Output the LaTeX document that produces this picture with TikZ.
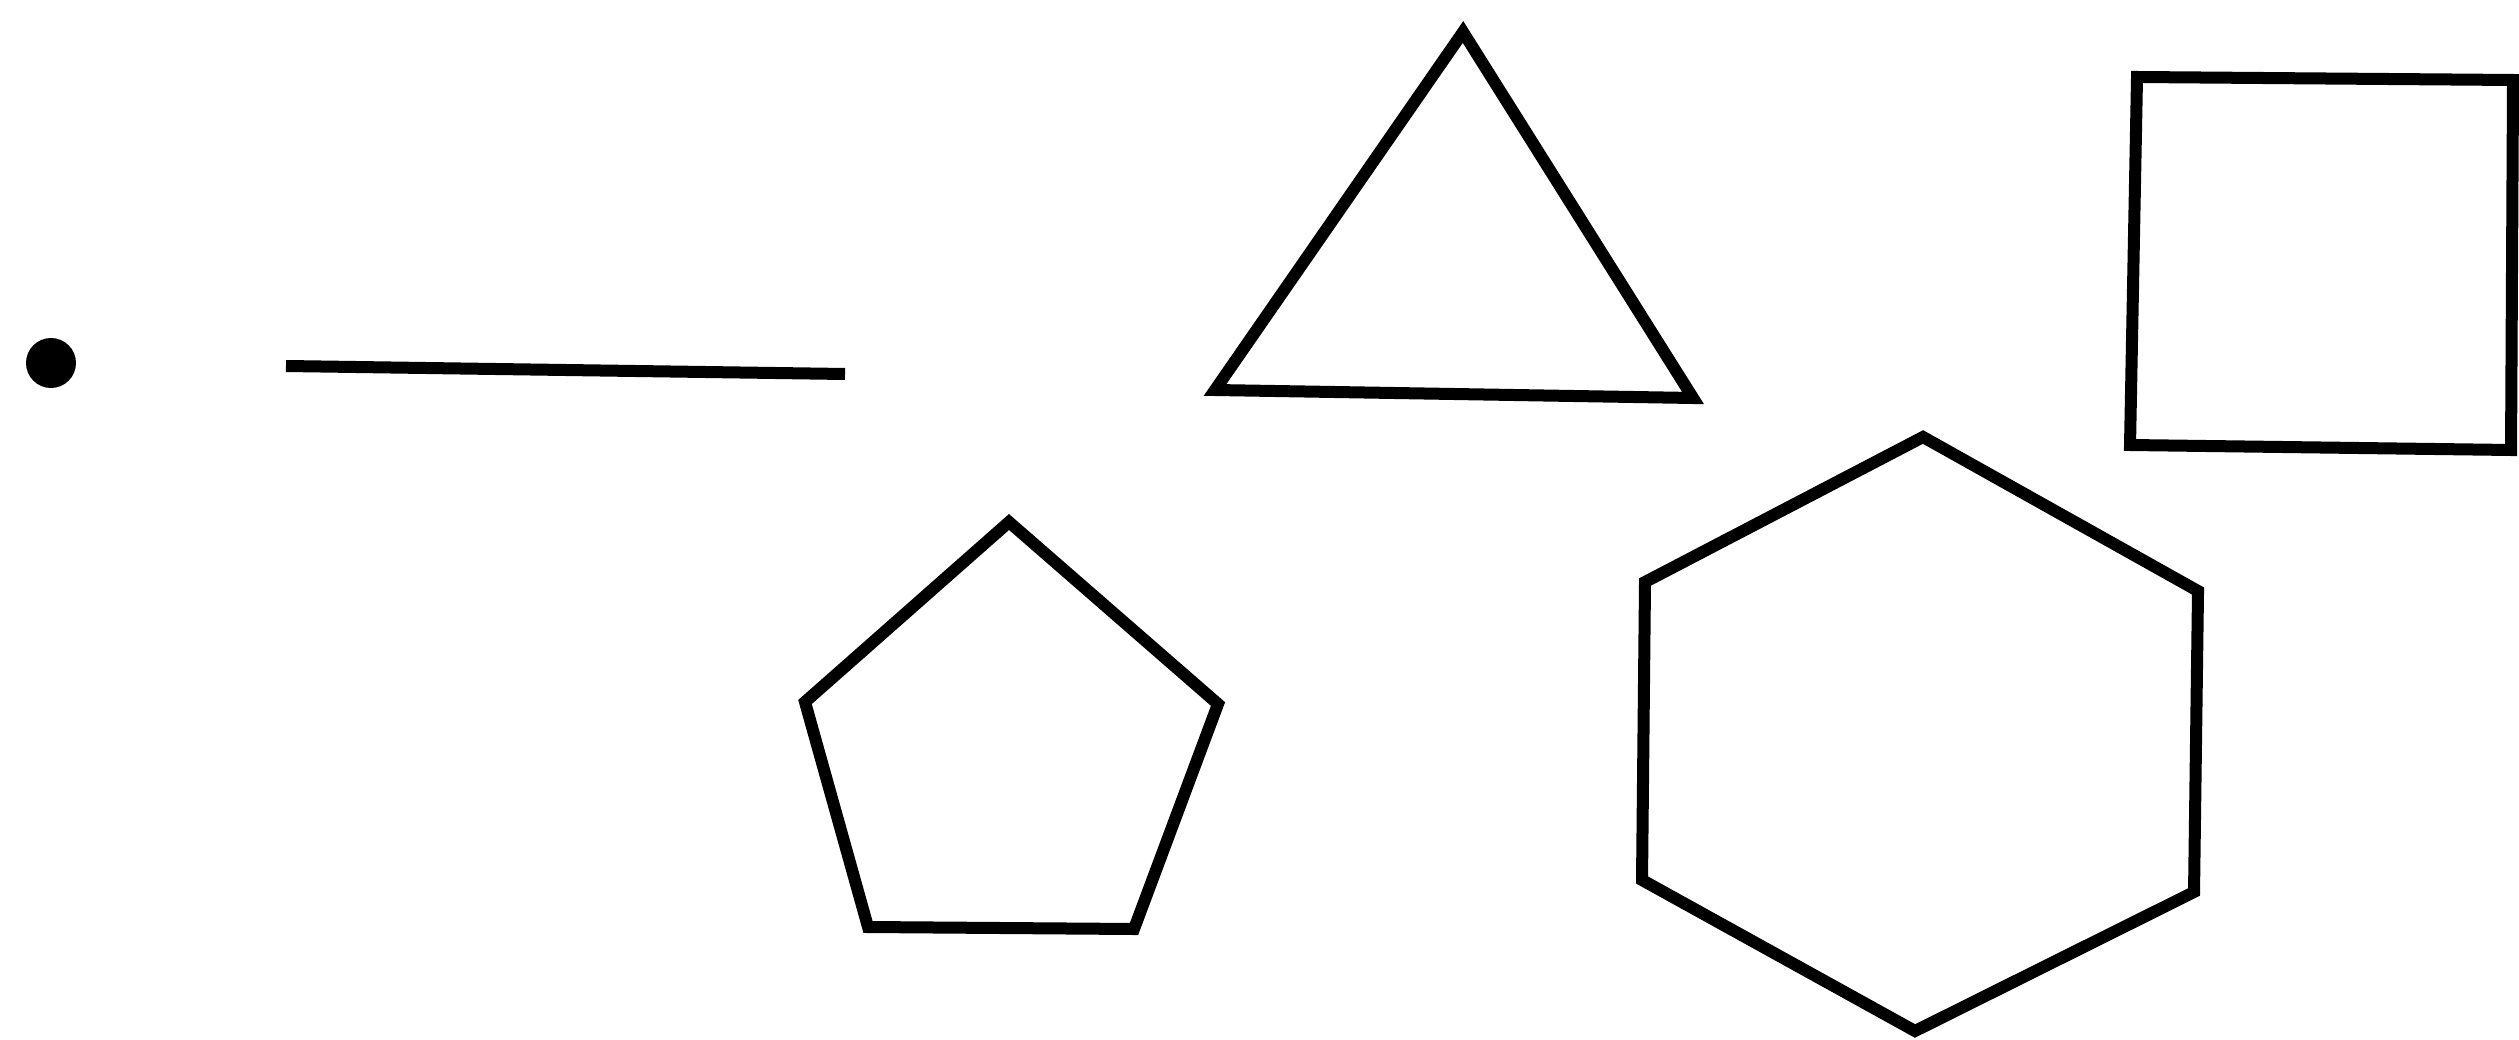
\documentclass[tikz,border=0pt]{standalone}
\usepackage{tikz}

\begin{document}
\begin{tikzpicture}[x=0.01cm,y=-0.01cm,line join=miter,
    outline/.style={draw=black,line width=0.12cm}]
      \useasboundingbox (0,0) rectangle (2519,1040);
      % dot and segment
      \fill (51,363) circle (25);
      \draw[outline] (286,366)--(845,374);
      % triangle, square
      \draw[outline] (1463,32)--(1693,398)--(1215,390)--cycle;
      \draw[outline] (2137,77)--(2513,80)--(2511,450)--(2130,445)--cycle;
      % pentagon, hexagon
      \draw[outline] (1009,522)--(1218,704)--(1134,929)--(868,927)--(805,702)--cycle;
      \draw[outline] (1923,437)--(2198,591)--(2194,892)--(1915,1031)--(1642,880)--(1645,582)--cycle;
    \end{tikzpicture}
\end{document}
